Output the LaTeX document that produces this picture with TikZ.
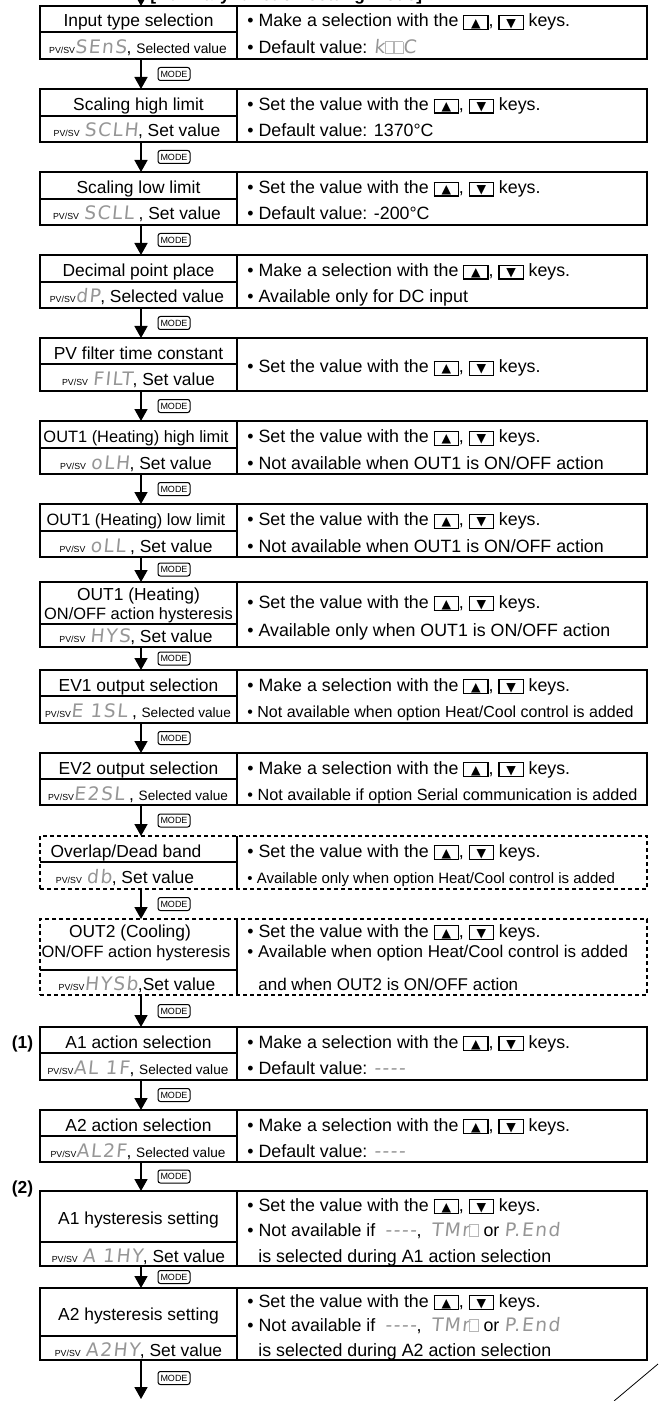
\documentclass[tikz,border=0pt]{standalone}
\usepackage{fontspec}
\setmainfont{Liberation Sans}
\newfontfamily\dejavu{DejaVu Sans}
\newfontfamily\segf[LetterSpace=8,FakeSlant=0.1]{DejaVu Sans}
\usetikzlibrary{arrows.meta,calc}
\definecolor{seggray}{RGB}{150,150,150}
\newcommand\fs[1]{\fontsize{#1pt}{#1pt}\selectfont}
\newcommand\pvsv{{\fs{4.4}PV/SV}}
\newcommand\seg[1]{{\segf\fs{9.3}\color{seggray}#1}}
\newcommand\kbox[1]{\raisebox{-1pt}{\setlength\fboxsep{0pt}\setlength\fboxrule{0.55pt}\fbox{\rule{0pt}{6.3pt}\makebox[11.5pt]{\raisebox{0.9pt}{\dejavu\fs{6.2}#1}}}}}
\newcommand\updn{with the \kbox{▲}, \kbox{▼} keys.}
\newcommand\blk{\textcolor{seggray!70}{\setlength\fboxsep{0pt}\setlength\fboxrule{0.3pt}\fbox{\rule{0pt}{5.8pt}\hspace{4pt}}}}
\begin{document}
\begin{tikzpicture}[x=0.5pt,y=-0.5pt,
  box/.style={draw, line width=0.65pt, inner sep=0pt, outer sep=0pt, minimum width=303.5pt},
  dbox/.style={box, dash pattern=on 2pt off 1.5pt},
  ln/.style={line width=0.65pt},
  arr/.style={line width=0.85pt, -{Triangle[length=6pt,width=6.5pt]}},
  modek/.style={draw, line width=0.5pt, rounded corners=1.2pt, minimum width=16pt, minimum height=6.5pt, inner sep=0pt, font=\fs{4.5}},
  ttl/.style={anchor=base, yshift=-4pt, inner sep=0pt, font=\fs{8.7}},
  val/.style={anchor=base, yshift=-4pt, inner sep=0pt, font=\fs{8.7}},
  rt/.style={anchor=base west, yshift=-4pt, inner sep=0pt, font=\fs{8.9}},
  lab/.style={anchor=base, yshift=-4pt, inner sep=0pt, font=\bfseries\fs{8.7}}]
\useasboundingbox (0,0) rectangle (661,1401);
\clip (0,0) rectangle (661,1401);
\fill[white] (0,0) rectangle (661,1401);
\coordinate (ax) at (141,0);
\coordinate (dv) at (237,0);
\coordinate (mx) at (174,0);

% header (cut off at the top edge)
\node[anchor=base west, inner sep=0pt, font=\bfseries\fs{8.7}] (hdr) at (150,1) {[Auxiliary function setting mode]};

% boxes
\foreach \i/\t/\b in {1/6/59,2/89/142,3/172/225,4/255/308,5/338/391,6/421/474,7/504/557,8/582/647,9/670/723,10/753/805,13/1027/1080,14/1110/1162,15/1191/1266,16/1288/1360}
  \node[box, minimum height={(\b-\t)*0.5pt}] (b\i) at (343.5,{(\t+\b)/2}) {};
\foreach \i/\t/\b in {11/836/889,12/919/995}
  \node[dbox, minimum height={(\b-\t)*0.5pt}] (b\i) at (343.5,{(\t+\b)/2}) {};

% dividers
\foreach \i/\d in {1/32,2/116,3/199,4/282,5/364,6/448,7/531,8/624,9/696,10/779,11/862,12/970,13/1053,14/1136,15/1242,16/1336}{
  \draw[ln] (b\i.north -| dv) -- (b\i.south -| dv);
  \draw[ln] (40,\d) -- (237,\d);
}

% connectors
\coordinate (start) at (141,-20);
\draw[arr] (start) -- (b1.north -| ax);
\foreach \i/\j in {1/2,2/3,3/4,4/5,5/6,6/7,7/8,8/9,9/10,10/11,11/12,12/13,13/14,14/15,15/16}{
  \draw[arr] (b\i.south -| ax) -- (b\j.north -| ax);
  \node[modek] (m\i) at ($(b\i.south -| mx)!0.5!(b\j.north -| mx)$) {MODE};
}
\coordinate (end) at (141,1399);
\draw[arr] (b16.south -| ax) -- (end);
\node[modek] (m16) at (174,1378) {MODE};

% box 1
\node[ttl] (t1) at (138.5,19) {Input type selection};
\node[val] (v1) at (138,45.5) {\pvsv\seg{SEnS}, {\fs{6.9}Selected value}};
\node[rt] (r1a) at (247,19) {• Make a selection \updn};
\node[rt] (r1b) at (247,45.5) {• Default value: \seg{k}\blk\blk\seg{C}};
% box 2
\node[ttl] (t2) at (138.5,102.5) {Scaling high limit};
\node[val] (v2) at (137,129) {\pvsv\ \seg{SCLH}, Set value};
\node[rt] (r2a) at (247,102.5) {• Set the value \updn};
\node[rt] (r2b) at (247,129) {• Default value: 1370°C};
% box 3
\node[ttl] (t3) at (138.5,185.5) {Scaling low limit};
\node[val] (v3) at (137,212) {\pvsv\ \seg{SCLL} , Set value};
\node[rt] (r3a) at (247,185.5) {• Set the value \updn};
\node[rt] (r3b) at (247,212) {• Default value: -200°C};
% box 4
\node[ttl] (t4) at (138.5,268.5) {Decimal point place};
\node[val] (v4) at (137,295) {\pvsv\seg{dP}, Selected value};
\node[rt] (r4a) at (247,268.5) {• Make a selection \updn};
\node[rt] (r4b) at (247,295) {• Available only for DC input};
% box 5
\node[ttl] (t5) at (138.5,351) {PV filter time constant};
\node[val] (v5) at (138.5,377.5) {\pvsv\ \seg{FILT}, Set value};
\node[rt] (r5) at (247,364.5) {• Set the value \updn};
% box 6
\node[ttl, font=\fs{8.2}] (t6) at (136,434.5) {OUT1 (Heating) high limit};
\node[val] (v6) at (136,461) {\pvsv\ \seg{oLH}, Set value};
\node[rt] (r6a) at (247,434.5) {• Set the value \updn};
\node[rt] (r6b) at (247,461) {• Not available when OUT1 is ON/OFF action};
% box 7
\node[ttl, font=\fs{8.2}] (t7) at (136,517.5) {OUT1 (Heating) low limit};
\node[val] (v7) at (136,544) {\pvsv\ \seg{oLL} , Set value};
\node[rt] (r7a) at (247,517.5) {• Set the value \updn};
\node[rt] (r7b) at (247,544) {• Not available when OUT1 is ON/OFF action};
% box 8
\node[ttl] (t8a) at (138.5,592) {OUT1 (Heating)};
\node[ttl, font=\fs{8.2}] (t8b) at (138.5,611) {ON/OFF action hysteresis};
\node[val] (v8) at (136,634.5) {\pvsv\ \seg{HYS}, Set value};
\node[rt] (r8a) at (247,600) {• Set the value \updn};
\node[rt] (r8b) at (247,628.5) {• Available only when OUT1 is ON/OFF action};
% box 9
\node[ttl] (t9) at (138.5,683) {EV1 output selection};
\node[val] (v9) at (138,709.5) {\pvsv\seg{E 1SL} , {\fs{6.8}Selected value}};
\node[rt] (r9a) at (247,683) {• Make a selection \updn};
\node[rt] (r9b) at (247,709.5) {\fs{8}• Not available when option Heat/Cool control is added};
% box 10
\node[ttl] (t10) at (138.5,766) {EV2 output selection};
\node[val] (v10) at (138,792) {\pvsv\seg{E2SL} , {\fs{6.8}Selected value}};
\node[rt] (r10a) at (247,766) {• Make a selection \updn};
\node[rt] (r10b) at (247,792) {\fs{8.1}• Not available if option Serial communication is added};
% box 11
\node[ttl] (t11) at (126,849) {Overlap/Dead band};
\node[val] (v11) at (125,875.5) {\pvsv\ \seg{db}, Set value};
\node[rt] (r11a) at (247,849) {• Set the value \updn};
\node[rt] (r11b) at (247,875.5) {\fs{7.5}• Available only when option Heat/Cool control is added};
% box 12
\node[ttl] (t12a) at (130,929) {OUT2 (Cooling)};
\node[ttl, font=\fs{8.2}] (t12b) at (136,949.5) {ON/OFF action hysteresis};
\node[val] (v12) at (137,982) {\pvsv\seg{HYSb},Set value};
\node[rt] (r12a) at (247,929) {• Set the value \updn};
\node[rt] (r12b) at (247,949.5) {\fs{8.5}• Available when option Heat/Cool control is added};
\node[rt] (r12c) at (258,982) {\fs{8.5}and when OUT2 is ON/OFF action};
% box 13
\node[lab] (n1) at (22.5,1040) {(1)};
\node[ttl] (t13) at (138.5,1040) {A1 action selection};
\node[val] (v13) at (138,1066.5) {\pvsv\seg{AL 1F}, {\fs{6.8}Selected value}};
\node[rt] (r13a) at (247,1040) {• Make a selection \updn};
\node[rt] (r13b) at (247,1066.5) {• Default value: \seg{-{}-{}-{}-}};
% box 14
\node[ttl] (t14) at (138.5,1123) {A2 action selection};
\node[val] (v14) at (138,1149) {\pvsv\seg{AL2F}, {\fs{6.8}Selected value}};
\node[rt] (r14a) at (247,1123) {• Make a selection \updn};
\node[rt] (r14b) at (247,1149) {• Default value: \seg{-{}-{}-{}-}};
% box 15
\node[lab] (n2) at (22.5,1185) {(2)};
\node[ttl] (t15) at (138.5,1216) {A1 hysteresis setting};
\node[val] (v15) at (138.5,1254) {\pvsv\ \seg{A 1HY}, Set value};
\node[rt] (r15a) at (247,1203) {• Set the value \updn};
\node[rt] (r15b) at (247,1228) {• Not available if \ \seg{-{}-{}-{}-}, \ \seg{TMr}\blk\ or \seg{P.End}};
\node[rt] (r15c) at (258,1254) {is selected during A1 action selection};
% box 16
\node[ttl] (t16) at (138.5,1312) {A2 hysteresis setting};
\node[val] (v16) at (138.5,1348) {\pvsv\ \seg{A2HY}, Set value};
\node[rt] (r16a) at (247,1299) {• Set the value \updn};
\node[rt] (r16b) at (247,1323) {• Not available if \ \seg{-{}-{}-{}-}, \ \seg{TMr}\blk\ or \seg{P.End}};
\node[rt] (r16c) at (258,1348) {is selected during A2 action selection};

% page edge mark
\draw[line width=0.4pt] (614,1401) -- (658,1364);
\end{tikzpicture}
\end{document}
